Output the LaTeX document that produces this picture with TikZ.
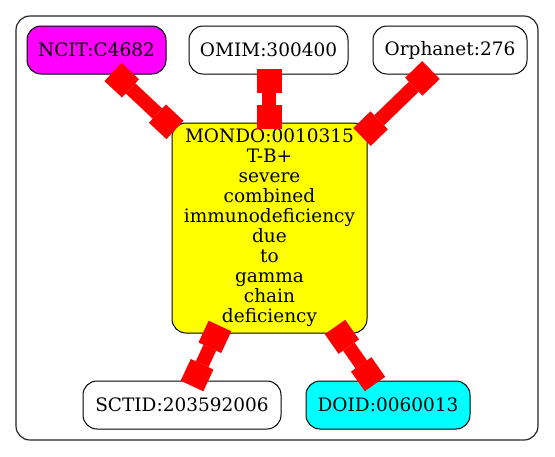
\documentclass[tikz,border=0pt]{standalone}
\usepackage{fontspec}
\setmainfont{DejaVu Serif}
\usetikzlibrary{arrows.meta,calc}
\definecolor{gvmagenta}{RGB}{255,0,255}
\definecolor{gvyellow}{RGB}{255,255,0}
\definecolor{gvcyan}{RGB}{0,255,255}
\definecolor{gvred}{RGB}{255,0,0}
\tikzset{
  term/.style={draw=black, line width=1pt, rounded corners=14pt, inner sep=0pt,
    minimum height=48pt, font=\fontsize{18.5}{20}\selectfont, align=center},
  cluster/.style={draw=black!85, line width=1.2pt, rounded corners=14pt},
  xedge/.style={draw=gvred, line width=14pt,
    {Square[length=24pt,width=25pt,line width=0pt]}-{Square[length=24pt,width=25pt,line width=0pt]}}
}
\begin{document}
\begin{tikzpicture}[x=1pt,y=-1pt]
\useasboundingbox (0,0) rectangle (555,456);
\draw[cluster] (16,16) rectangle (538,440);
\node[term, fill=gvmagenta, minimum width=139pt] (ncit) at (96.5,50) {NCIT:C4682};
\node[term, fill=white, minimum width=159pt] (omim) at (268.5,50) {OMIM:300400};
\node[term, fill=white, minimum width=154pt] (orpha) at (450,50) {Orphanet:276};
\node[term, fill=gvyellow, minimum width=195pt, minimum height=210pt] (mondo) at (269.5,228)
  {MONDO:0010315\\T-B+\\severe\\combined\\immunodeficiency\\due\\to\\gamma\\chain\\deficiency};
\node[term, fill=white, minimum width=198pt] (sctid) at (182,405) {SCTID:203592006};
\node[term, fill=gvcyan, minimum width=164pt] (doid) at (388,405) {DOID:0060013};
\draw[xedge] ($(ncit.center)+(16.5,22)$) -- ($(mondo.center)+(-94.5,-98)$);
\draw[xedge] ($(omim.center)+(0.5,19)$) -- ($(mondo.center)+(-0.5,-99)$);
\draw[xedge] ($(orpha.center)+(-19,20)$) -- ($(mondo.center)+(92.5,-91)$);
\draw[xedge] ($(mondo.center)+(-49.5,98)$) -- ($(sctid.center)+(10,-19)$);
\draw[xedge] ($(mondo.center)+(65.5,99)$) -- ($(doid.center)+(-13,-21)$);
\end{tikzpicture}
\end{document}
